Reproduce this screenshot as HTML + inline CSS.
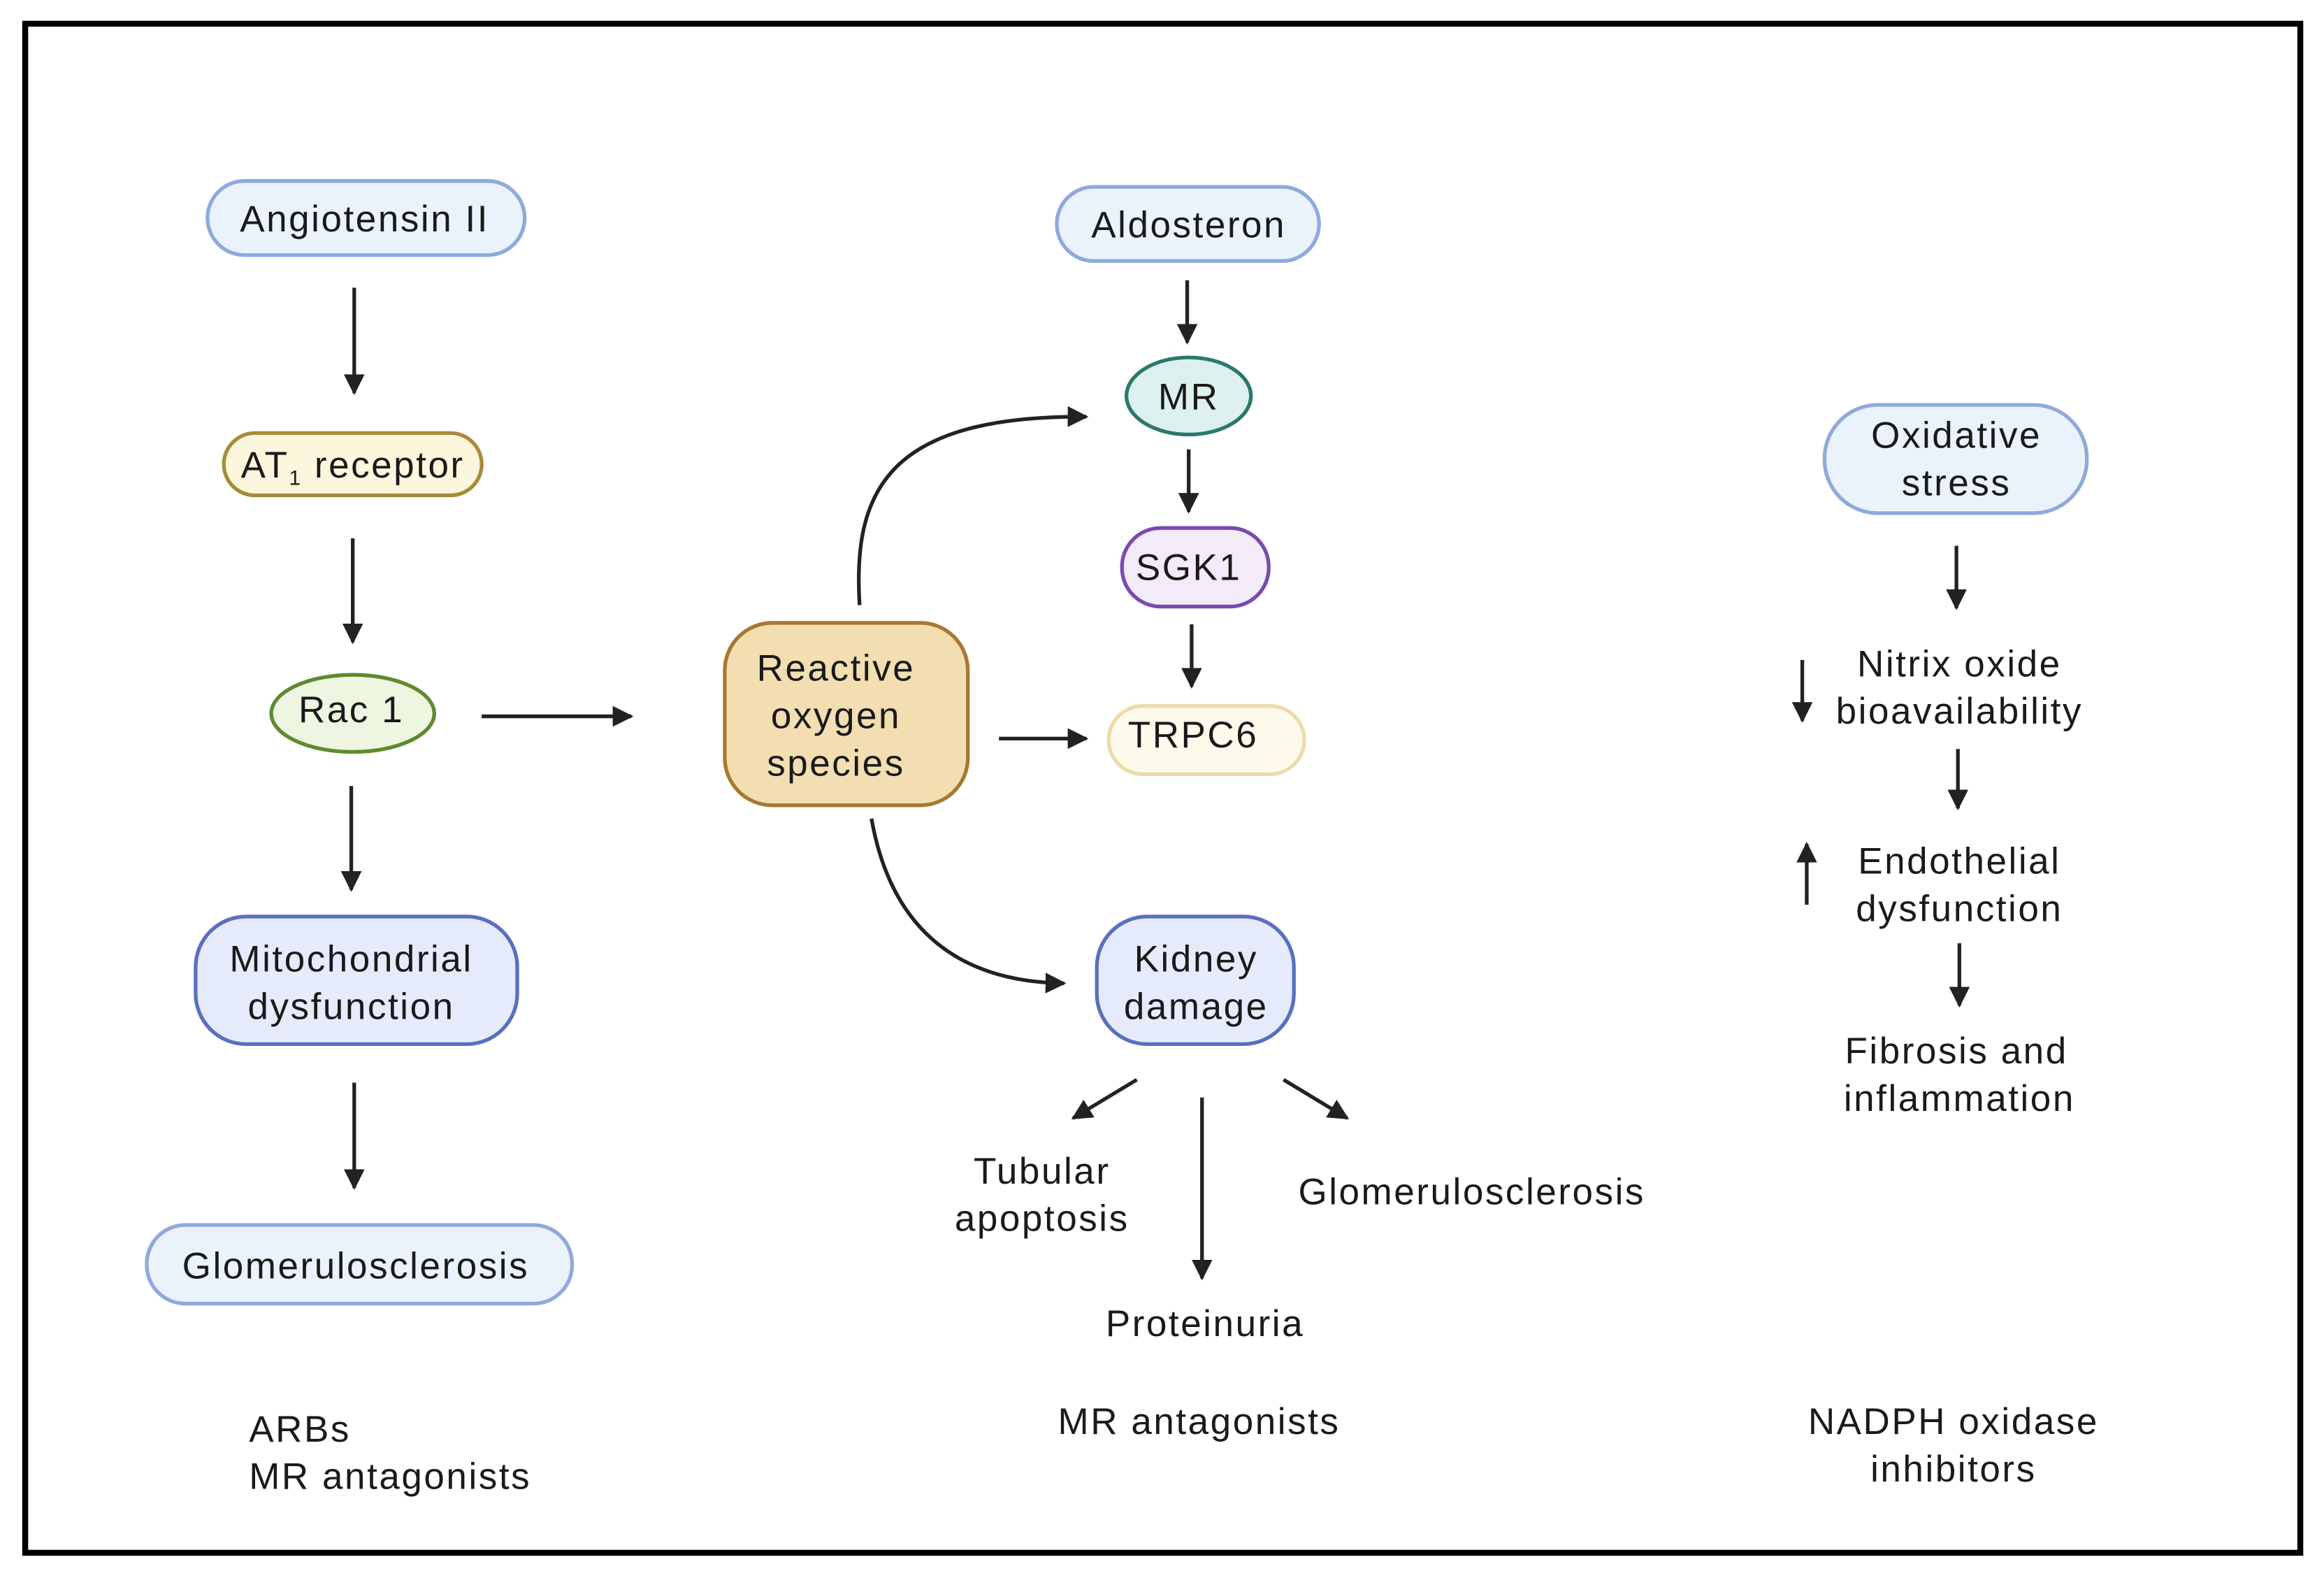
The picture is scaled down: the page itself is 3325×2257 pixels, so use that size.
<!DOCTYPE html>
<html><head><meta charset="utf-8"><style>
html,body{margin:0;padding:0;background:#fff;}
svg{display:block;}
text{font-family:"Liberation Sans",sans-serif;font-size:25px;fill:#1a1a1a;text-anchor:middle;letter-spacing:1.2px;}
</style></head><body>
<svg width="3325" height="2257" viewBox="0 0 1568 1064" preserveAspectRatio="none" xmlns="http://www.w3.org/2000/svg">
<defs>
<marker id="a" viewBox="0 0 10 10" refX="9" refY="5" markerWidth="14" markerHeight="14" markerUnits="userSpaceOnUse" orient="auto">
<path d="M0,0 L10,5 L0,10 z" fill="#222"/></marker>
</defs>
<rect x="0" y="0" width="1568" height="1064" fill="#fff"/>
<rect x="17" y="16" width="1535" height="1031" fill="none" stroke="#000" stroke-width="4"/>
<g stroke-width="2.5">
<rect x="140" y="122" width="214" height="50" rx="25" fill="#eaf2fc" stroke="#8fa9dc"/>
<rect x="151" y="292" width="174" height="42" rx="21" fill="#fbf6dc" stroke="#a88a3a"/>
<ellipse cx="238" cy="481" rx="55" ry="26" fill="#eef6e2" stroke="#5f8a30"/>
<rect x="132" y="618" width="217" height="86" rx="34" fill="#e5ebfa" stroke="#5a6fc0"/>
<rect x="99" y="826" width="287" height="53" rx="26" fill="#eaf2fc" stroke="#8fa9dc"/>
<rect x="489" y="420" width="164" height="123" rx="32" fill="#f2deb0" stroke="#a87830"/>
<rect x="713" y="126" width="177" height="50" rx="25" fill="#eaf2fc" stroke="#8fa9dc"/>
<ellipse cx="802" cy="267" rx="42" ry="26" fill="#dcf1ee" stroke="#2a7a6a"/>
<rect x="757" y="356" width="99" height="53" rx="26" fill="#f1ebfa" stroke="#7a4ab0"/>
<rect x="748" y="476" width="132" height="46" rx="23" fill="#fdfaec" stroke="#ecdca8"/>
<rect x="740" y="618" width="133" height="86" rx="34" fill="#e5ebfa" stroke="#5a6fc0"/>
<rect x="1231" y="273" width="177" height="73" rx="36" fill="#eaf2fc" stroke="#8fa9dc"/>
</g>
<g stroke="#222" stroke-width="2.5" fill="none" marker-end="url(#a)">
<line x1="239" y1="194" x2="239" y2="265"/>
<line x1="238" y1="363" x2="238" y2="433"/>
<line x1="237" y1="530" x2="237" y2="600"/>
<line x1="239" y1="730" x2="239" y2="801"/>
<line x1="325" y1="483" x2="426" y2="483"/>
<line x1="674" y1="498" x2="733" y2="498"/>
<line x1="801" y1="189" x2="801" y2="231"/>
<line x1="802" y1="303" x2="802" y2="345"/>
<line x1="804" y1="421" x2="804" y2="463"/>
<path d="M580,408 C575,330 600,280 733,281"/>
<path d="M588,552 C600,620 640,662 718,663"/>
<line x1="767" y1="728" x2="724" y2="754"/>
<line x1="811" y1="740" x2="811" y2="862"/>
<line x1="866" y1="728" x2="909" y2="754"/>
<line x1="1320" y1="368" x2="1320" y2="410"/>
<line x1="1321" y1="505" x2="1321" y2="545"/>
<line x1="1322" y1="636" x2="1322" y2="678"/>
<line x1="1216" y1="445" x2="1216" y2="486"/>
<line x1="1219" y1="610" x2="1219" y2="569"/>
</g>
<text x="246" y="156">Angiotensin II</text>
<text x="238" y="322">AT<tspan font-size="14" dy="5">1</tspan><tspan dy="-5"> receptor</tspan></text>
<text x="237" y="487">Rac 1</text>
<text x="237" y="655">Mitochondrial</text>
<text x="237" y="687">dysfunction</text>
<text x="240" y="862">Glomerulosclerosis</text>
<text x="564" y="459">Reactive</text>
<text x="564" y="491">oxygen</text>
<text x="564" y="523">species</text>
<text x="802" y="160">Aldosteron</text>
<text x="802" y="276">MR</text>
<text x="802" y="391">SGK1</text>
<text x="805" y="504">TRPC6</text>
<text x="807" y="655">Kidney</text>
<text x="807" y="687">damage</text>
<text x="703" y="798">Tubular</text>
<text x="703" y="830">apoptosis</text>
<text x="993" y="812">Glomerulosclerosis</text>
<text x="813" y="901">Proteinuria</text>
<text x="1320" y="302">Oxidative</text>
<text x="1320" y="334">stress</text>
<text x="1322" y="456">Nitrix oxide</text>
<text x="1322" y="488">bioavailability</text>
<text x="1322" y="589">Endothelial</text>
<text x="1322" y="621">dysfunction</text>
<text x="1320" y="717">Fibrosis and</text>
<text x="1322" y="749">inflammation</text>
<text x="168" y="972" style="text-anchor:start">ARBs</text>
<text x="168" y="1004" style="text-anchor:start">MR antagonists</text>
<text x="809" y="967">MR antagonists</text>
<text x="1318" y="967">NADPH oxidase</text>
<text x="1318" y="999">inhibitors</text>
</svg>
</body></html>
